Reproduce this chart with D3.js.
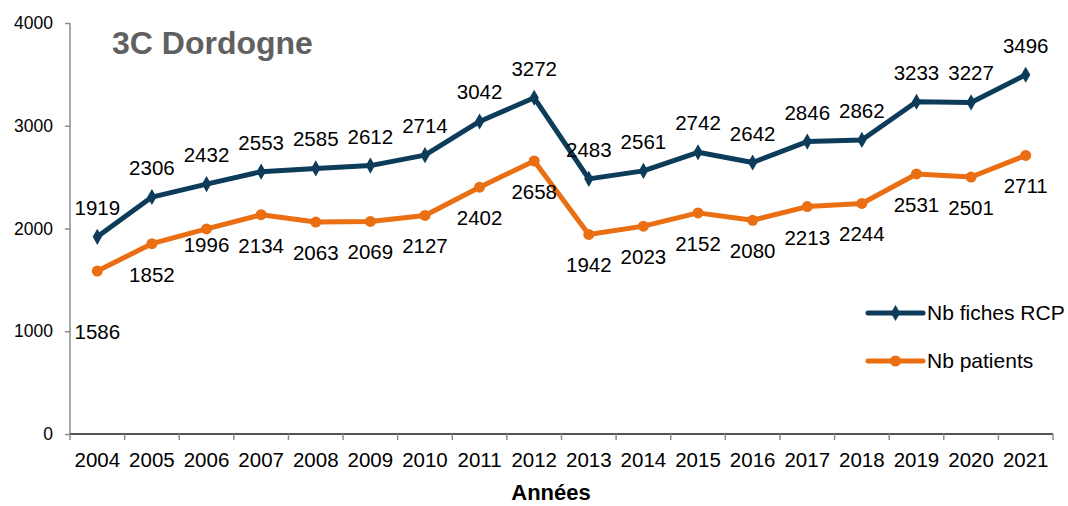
<!DOCTYPE html>
<html>
<head>
<meta charset="utf-8">
<script src="https://cdn.jsdelivr.net/npm/d3@7"></script>
<style>
  body { margin: 0; background: #fff; }
  svg { font-family: "Liberation Sans", Arial, sans-serif; }
</style>
</head>
<body>
<div id="chart"></div>
<script>
// values
const years = ['2004', '2005', '2006', '2007', '2008', '2009', '2010', '2011', '2012',
    '2013', '2014', '2015', '2016', '2017', '2018', '2019', '2020', '2021'];
const fichesRCP = [1919, 2306, 2432, 2553, 2585, 2612, 2714, 3042, 3272,
    2483, 2561, 2742, 2642, 2846, 2862, 3233, 3227, 3496];
const patients = [1586, 1852, 1996, 2134, 2063, 2069, 2127, 2402, 2658,
    1942, 2023, 2152, 2080, 2213, 2244, 2531, 2501, 2711];
const yTicks = [0, 1000, 2000, 3000, 4000];

const width = 1068, height = 506;
const plot = { left: 70, right: 1053, top: 23, bottom: 434 };

const svg = d3.select('#chart').append('svg')
    .attr('width', width)
    .attr('height', height);

const x = d3.scaleBand().domain(years).range([plot.left, plot.right]).padding(0);
const y = d3.scaleLinear().domain([0, 4000]).range([plot.bottom, plot.top]);

const series = [
    { name: 'Nb fiches RCP', values: fichesRCP, color: '#0d3c5b', marker: 'diamond', dy: -22 },
    { name: 'Nb patients', values: patients, color: '#ea6e12', marker: 'circle', dy: 38 }
];
// labels that were dragged by hand in the original
const labelShift = { 'Nb patients': { '2004': 30, '2006': -15 } };

// y axis
const yAxis = svg.append('g')
    .attr('transform', 'translate(' + plot.left + ',0)')
    .call(d3.axisLeft(y).tickValues(yTicks).tickSize(5).tickPadding(12).tickFormat(d3.format('d')));
yAxis.attr('font-family', null);
yAxis.select('.domain').attr('stroke', '#8c8c8c').attr('stroke-width', 1.5)
    .attr('d', 'M0,' + plot.top + 'V' + plot.bottom);
yAxis.selectAll('.tick line').attr('stroke', '#8c8c8c').attr('stroke-width', 1.5);
yAxis.selectAll('.tick text').attr('font-size', '17.5px').attr('fill', '#000');

// x axis, ticks between categories
const xAxis = svg.append('g')
    .attr('transform', 'translate(0,' + plot.bottom + ')');
xAxis.append('line')
    .attr('x1', plot.left).attr('x2', plot.right)
    .attr('stroke', '#1a1a1a').attr('stroke-width', 1.5);
const bounds = years.map(d => x(d)).concat([x(years[years.length - 1]) + x.bandwidth()]);
xAxis.selectAll('.xtick').data(bounds).enter().append('line')
    .attr('x1', d => d).attr('x2', d => d)
    .attr('y1', 0).attr('y2', 6)
    .attr('stroke', '#8c8c8c').attr('stroke-width', 1.5);
xAxis.selectAll('.xlabel').data(years).enter().append('text')
    .attr('x', d => x(d) + x.bandwidth() / 2)
    .attr('y', 33)
    .attr('text-anchor', 'middle')
    .attr('font-size', '20.5px')
    .text(d => d);

svg.append('text')
    .attr('x', 551).attr('y', 500)
    .attr('text-anchor', 'middle')
    .attr('font-size', '22px')
    .attr('font-weight', 'bold')
    .text('Années');

svg.append('text')
    .attr('x', 112).attr('y', 54)
    .attr('font-size', '32px')
    .attr('font-weight', 'bold')
    .attr('fill', '#606060')
    .text('3C Dordogne');

const cx = d => x(d) + x.bandwidth() / 2;
const line = d3.line().x((v, i) => cx(years[i])).y(v => y(v));
const diamond = d3.symbol().type(d3.symbolDiamond).size(75);

series.forEach(s => {
    const g = svg.append('g');
    g.append('path')
        .attr('d', line(s.values))
        .attr('fill', 'none')
        .attr('stroke', s.color)
        .attr('stroke-width', 5)
        .attr('stroke-linejoin', 'round');
    if (s.marker === 'diamond') {
        g.selectAll('.pt').data(s.values).enter().append('path')
            .attr('d', diamond)
            .attr('transform', (v, i) => 'translate(' + cx(years[i]) + ',' + y(v) + ')')
            .attr('fill', s.color);
    } else {
        g.selectAll('.pt').data(s.values).enter().append('circle')
            .attr('cx', (v, i) => cx(years[i]))
            .attr('cy', v => y(v))
            .attr('r', 5.5)
            .attr('fill', s.color);
    }
    const shift = labelShift[s.name] || {};
    g.selectAll('.lbl').data(s.values).enter().append('text')
        .attr('x', (v, i) => cx(years[i]))
        .attr('y', (v, i) => y(v) + s.dy + (shift[years[i]] || 0))
        .attr('text-anchor', 'middle')
        .attr('font-size', '20.5px')
        .text(v => v);
});

// legend
const legend = svg.append('g').attr('transform', 'translate(868,313)');
series.forEach((s, i) => {
    const row = legend.append('g').attr('transform', 'translate(0,' + (i * 48) + ')');
    row.append('line')
        .attr('x1', 0).attr('x2', 55)
        .attr('stroke', s.color).attr('stroke-width', 5)
        .attr('stroke-linecap', 'round');
    if (s.marker === 'diamond') {
        row.append('path').attr('d', diamond).attr('transform', 'translate(27.5,0)').attr('fill', s.color);
    } else {
        row.append('circle').attr('cx', 27.5).attr('r', 5.5).attr('fill', s.color);
    }
    row.append('text')
        .attr('x', 59).attr('y', 7)
        .attr('font-size', '21px')
        .text(s.name);
});
</script>
</body>
</html>
